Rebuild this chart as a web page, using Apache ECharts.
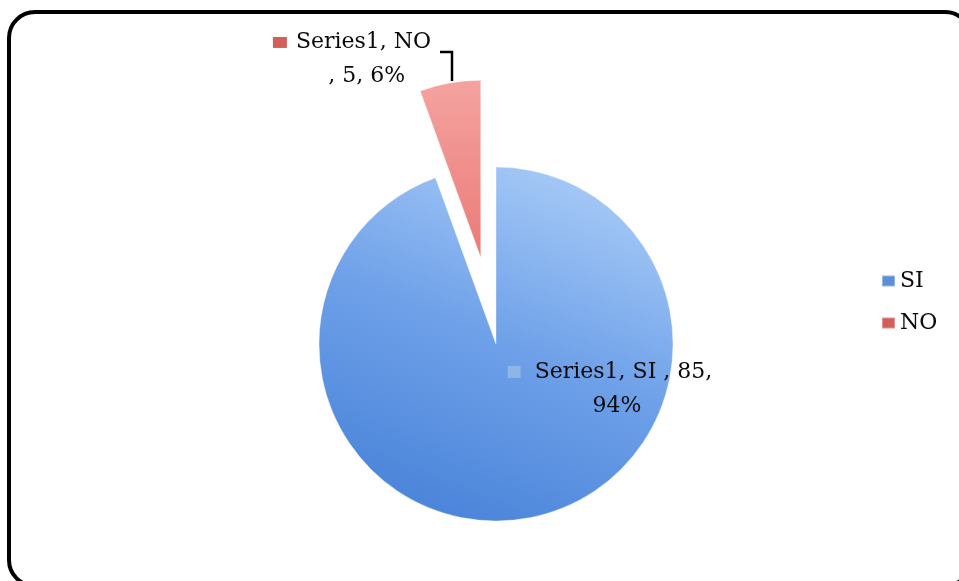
<!DOCTYPE html>
<html>
<head>
<meta charset="utf-8">
<script src="https://cdn.jsdelivr.net/npm/echarts@6/dist/echarts.min.js"></script>
<style>
  html, body { margin: 0; padding: 0; background: #fff; }
  #chart { width: 959px; height: 581px; }
</style>
</head>
<body>
<div id="chart"></div>
<script>
// chart values
const seriesName = 'Series1';
const categories = ['SI', 'NO'];
const values = [85, 5];

const FONT = '"DejaVu Serif", serif';

const sliceColors = [
  { type: 'linear', x: 0.75, y: 0, x2: 0.35, y2: 1,
    colorStops: [{ offset: 0, color: '#a9ccf7' }, { offset: 0.5, color: '#6fa1e9' }, { offset: 1, color: '#4a84d9' }] },
  { type: 'linear', x: 0, y: 0, x2: 0, y2: 1,
    colorStops: [{ offset: 0, color: '#f5a3a0' }, { offset: 1, color: '#ea7a77' }] }
];
const markerColors = ['#5b8fd8', '#d25f5c'];

// exploded slice offset, also used to map the leader line into the slice's own frame
const explode = 88;

const chart = echarts.init(document.getElementById('chart'), null, { renderer: 'canvas' });

const textStyle = { fontFamily: FONT, fontSize: 22, color: '#0a0a0a', lineHeight: 34 };

const data = categories.map((name, i) => ({
  name,
  value: values[i],
  selected: i === 1,
  itemStyle: { color: sliceColors[i] },
  label: i === 0 ? {
    position: 'inside',
    formatter: (p) => '{m|}{g|}{t|' + seriesName + ', ' + p.name + ' , ' + p.value + ',}\n{p|' + Math.round(p.percent) + '%}',
    rich: {
      m: { width: 13, height: 12, backgroundColor: '#8fb4e6', verticalAlign: 'middle' },
      g: { width: 14 },
      t: textStyle,
      p: Object.assign({}, textStyle, { padding: [0, 0, 0, 14] })
    }
  } : {
    position: 'outside',
    distanceToLabelLine: 9,
    formatter: (p) => '{m|}{g|}{t|' + seriesName + ', ' + p.name + '}\n{p|, ' + p.value + ', ' + Math.round(p.percent) + '%}',
    rich: {
      m: { width: 14, height: 11, backgroundColor: markerColors[1], verticalAlign: 'middle' },
      g: { width: 9 },
      t: textStyle,
      p: Object.assign({}, textStyle, { padding: [0, 26, 0, 0] })
    }
  },
  labelLine: i === 0 ? { show: false } : { show: true, length: 28, length2: 12, lineStyle: { color: '#000', width: 2.5 } }
}));

chart.setOption({
  animation: false,
  backgroundColor: '#fff',
  graphic: [{
    type: 'rect',
    shape: { x: 9, y: 12, width: 962, height: 574, r: 26 },
    style: { fill: 'none', stroke: '#000', lineWidth: 4 },
    silent: true
  }],
  legend: {
    orient: 'vertical',
    left: 876,
    top: 265,
    itemWidth: 13,
    itemHeight: 11,
    itemGap: 20,
    icon: 'rect',
    selectedMode: false,
    data: categories.map((c, i) => ({ name: c, itemStyle: { color: markerColors[i] } })),
    textStyle: { fontFamily: FONT, fontSize: 22, color: '#0a0a0a', lineHeight: 20 }
  },
  series: [{
    name: seriesName,
    type: 'pie',
    center: [496, 344],
    radius: 177,
    startAngle: 90,
    clockwise: true,
    selectedMode: 'single',
    selectedOffset: explode,
    emphasis: { disabled: true },
    itemStyle: { borderColor: 'rgba(255,255,255,0.35)', borderWidth: 1 },
    label: { show: true },
    labelLayout: (params) => {
      if (params.dataIndex === 0) {
        return { x: 610, y: 389, align: 'center', verticalAlign: 'middle' };
      }
      // leader line: straight up from the slice, then a short step left
      const a = (values[1] / (values[0] + values[1])) * Math.PI; // half the slice angle
      const ox = explode * Math.sin(a), oy = explode * Math.cos(a);
      return {
        dx: 7, dy: 4,
        labelLinePoints: [[452 + ox, 81 + oy], [452 + ox, 52 + oy], [440 + ox, 52 + oy]]
      };
    },
    data
  }]
});
</script>
</body>
</html>
